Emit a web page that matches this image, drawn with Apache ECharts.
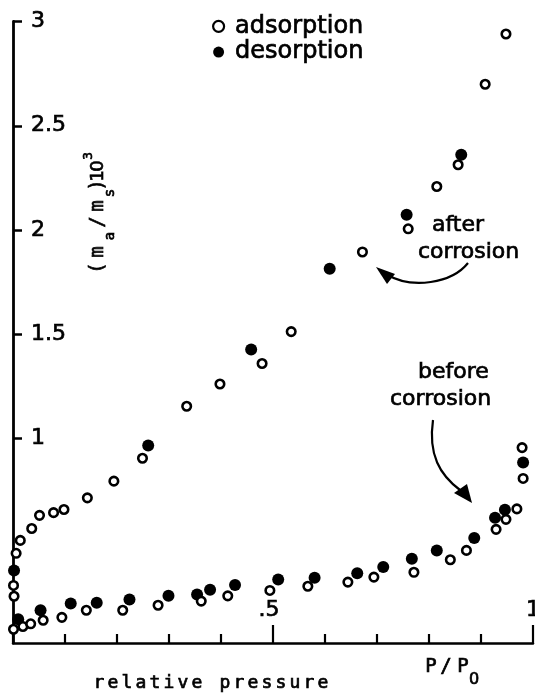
<!DOCTYPE html>
<html>
<head>
<meta charset="utf-8">
<script src="https://cdn.jsdelivr.net/npm/echarts@6/dist/echarts.min.js"></script>
<style>
html,body{margin:0;padding:0;background:#fff;}
#chart{width:535px;height:693px;}
</style>
</head>
<body>
<div id="chart"></div>
<script>
// ---- data ----
var adsBeforeX = [0.001, 0.019, 0.034, 0.058, 0.094, 0.141, 0.211, 0.279, 0.362, 0.413, 0.494, 0.567, 0.644, 0.694, 0.771, 0.841, 0.872, 0.929, 0.948, 0.969, 0.981, 0.979];
var adsBeforeY = [0.086, 0.099, 0.112, 0.129, 0.143, 0.177, 0.177, 0.201, 0.221, 0.246, 0.272, 0.292, 0.312, 0.336, 0.359, 0.419, 0.464, 0.565, 0.613, 0.663, 0.809, 0.957];
var adsAfterX = [0.002, 0.001, 0.006, 0.014, 0.036, 0.051, 0.078, 0.098, 0.143, 0.194, 0.249, 0.334, 0.398, 0.479, 0.535, 0.672, 0.760, 0.815, 0.856, 0.908, 0.948];
var adsAfterY = [0.244, 0.296, 0.450, 0.512, 0.569, 0.632, 0.645, 0.660, 0.716, 0.796, 0.906, 1.155, 1.262, 1.360, 1.513, 1.895, 2.006, 2.209, 2.313, 2.699, 2.940];
var desBeforeX = [0.010, 0.053, 0.111, 0.161, 0.224, 0.299, 0.354, 0.379, 0.427, 0.510, 0.580, 0.662, 0.712, 0.767, 0.815, 0.887, 0.927, 0.946, 0.981];
var desBeforeY = [0.134, 0.177, 0.209, 0.213, 0.229, 0.246, 0.253, 0.275, 0.298, 0.325, 0.333, 0.354, 0.384, 0.424, 0.464, 0.524, 0.621, 0.659, 0.886];
var desAfterX = [0.002, 0.260, 0.458, 0.609, 0.757, 0.862];
var desAfterY = [0.368, 0.967, 1.427, 1.815, 2.073, 2.361];

var yTickValues = [1, 1.5, 2, 2.5, 3];
var xLabelMap = {0.5: '.5', 1: '1'};
var seriesNames = ['adsorption', 'desorption'];
var xTitle = 'relative pressure';
var annotAfter = ['after', 'corrosion'];
var annotBefore = ['before', 'corrosion'];

function pairs(xs, ys) { return xs.map(function (x, i) { return [x, ys[i]]; }); }

var SANS = '"DejaVu Sans", sans-serif';
var MONO = '"DejaVu Sans Mono", monospace';
var BOLDEN = { textBorderColor: '#000', textBorderWidth: 0.7 };

var openStyle = { color: '#fff', borderColor: '#000', borderWidth: 2.6, opacity: 1 };
var fillStyle = { color: '#000', borderColor: '#000', borderWidth: 0, opacity: 1 };

function txt(text, x, y, size, family, align, rot) {
  var el = { type: 'text', x: x, y: y, silent: true,
    style: { text: text, fontSize: size, fontFamily: family, fill: '#000', align: align, verticalAlign: 'middle',
             stroke: '#000', lineWidth: 0.7 } };
  if (rot) el.rotation = rot;
  return el;
}

// graphic elements (titles, annotations, arrows)
var graphics = [];
for (var i = 0; i < xTitle.length; i++) {
  graphics.push(txt(xTitle[i], 99 + 14 * i, 683, 18, MONO, 'center'));
}
[['P', 431, 667, 19, MONO], ['/', 446, 667, 19, MONO], ['P', 463, 667, 19, MONO], ['0', 474, 680, 16, SANS]].forEach(function (c) {
  graphics.push(txt(c[0], c[1], c[2], c[3], c[4], 'center'));
});
[['(', 98, 268, 19, MONO], ['m', 98, 252, 19, MONO], ['a', 110, 236, 14, MONO], ['/', 98, 222, 19, MONO], ['m', 98, 206, 19, MONO],
 ['s', 110, 193, 14, MONO], [')', 98, 185, 19, MONO], ['1', 98, 176, 18, SANS], ['0', 98, 166, 18, SANS], ['3', 89, 156, 12, SANS]].forEach(function (c) {
  graphics.push(txt(c[0], c[1], c[2], c[3], c[4], 'center', Math.PI / 2));
});
graphics.push(txt(annotAfter[0], 432, 225, 22, SANS, 'left'));
graphics.push(txt(annotAfter[1], 418, 252, 22, SANS, 'left'));
graphics.push(txt(annotBefore[0], 418, 372, 22, SANS, 'left'));
graphics.push(txt(annotBefore[1], 390, 399, 22, SANS, 'left'));
// arrows
graphics.push({ type: 'bezierCurve', silent: true,
  shape: { x1: 468, y1: 263, cpx1: 452, cpy1: 283, cpx2: 412, cpy2: 290, x2: 386, y2: 274 },
  style: { stroke: '#000', lineWidth: 2.2, fill: null } });
graphics.push({ type: 'polygon', silent: true, shape: { points: [[376, 267], [395, 274], [387, 284]] }, style: { fill: '#000' } });
graphics.push({ type: 'bezierCurve', silent: true,
  shape: { x1: 433, y1: 420, cpx1: 428, cpy1: 455, cpx2: 440, cpy2: 475, x2: 460, y2: 490 },
  style: { stroke: '#000', lineWidth: 2.2, fill: null } });
graphics.push({ type: 'polygon', silent: true, shape: { points: [[472, 503], [454, 493], [467, 484]] }, style: { fill: '#000' } });

var chart = echarts.init(document.getElementById('chart'), null, { renderer: 'canvas' });
chart.setOption({
  animation: false,
  backgroundColor: '#fff',
  grid: { left: 13, top: 21.5, width: 520, height: 621.5, outerBoundsMode: 'none' },
  legend: {
    data: [
      { name: seriesNames[0], itemStyle: { color: '#fff', borderColor: '#000', borderWidth: 2.2 } },
      { name: seriesNames[1], itemStyle: { color: '#000', borderWidth: 0 } }
    ],
    orient: 'vertical', left: 212, top: 14, padding: 0,
    itemWidth: 11, itemHeight: 11, itemGap: 1, icon: 'circle',
    textStyle: Object.assign({ fontSize: 24, fontFamily: SANS, color: '#000', padding: [0, 0, 0, 6] }, BOLDEN),
    selectedMode: false
  },
  xAxis: {
    type: 'value', min: 0, max: 1, interval: 0.5,
    axisLine: { show: true, onZero: false, lineStyle: { color: '#000', width: 2.5 } },
    axisTick: { show: true, inside: true, length: 18, lineStyle: { color: '#000', width: 2.2 } },
    minorTick: { show: true, splitNumber: 5, length: 9, lineStyle: { color: '#000', width: 2.2 } },
    splitLine: { show: false }, minorSplitLine: { show: false },
    axisLabel: Object.assign({
      inside: true, margin: 22, fontSize: 22, fontFamily: SANS, color: '#000',
      formatter: function (v) { return xLabelMap[v] ? (v === 0.5 ? '{a|' + xLabelMap[v] + '}' : xLabelMap[v]) : ''; },
      rich: { a: Object.assign({ fontSize: 22, fontFamily: SANS, color: '#000', padding: [0, 8, 0, 0] }, BOLDEN) }
    }, BOLDEN)
  },
  yAxis: {
    type: 'value', min: 0.02, max: 3,
    axisLine: { show: true, onZero: false, lineStyle: { color: '#000', width: 2.8 } },
    axisTick: { show: true, inside: true, length: 9, customValues: yTickValues, lineStyle: { color: '#000', width: 2.5 } },
    splitLine: { show: false },
    axisLabel: Object.assign({
      inside: true, margin: 18, fontSize: 22, fontFamily: SANS, color: '#000',
      customValues: yTickValues,
      formatter: function (v) { return String(v); }
    }, BOLDEN)
  },
  series: [
    { name: seriesNames[1], type: 'scatter', symbol: 'circle', symbolSize: 12, clip: false, z: 2,
      itemStyle: fillStyle, data: pairs(desBeforeX, desBeforeY) },
    { name: seriesNames[1], type: 'scatter', symbol: 'circle', symbolSize: 12, clip: false, z: 2,
      itemStyle: fillStyle, data: pairs(desAfterX, desAfterY) },
    { name: seriesNames[0], type: 'scatter', symbol: 'circle', symbolSize: 8.5, clip: false, z: 3,
      itemStyle: openStyle, data: pairs(adsBeforeX, adsBeforeY) },
    { name: seriesNames[0], type: 'scatter', symbol: 'circle', symbolSize: 8.5, clip: false, z: 3,
      itemStyle: openStyle, data: pairs(adsAfterX, adsAfterY) }
  ],
  graphic: { elements: graphics }
});
</script>
</body>
</html>
